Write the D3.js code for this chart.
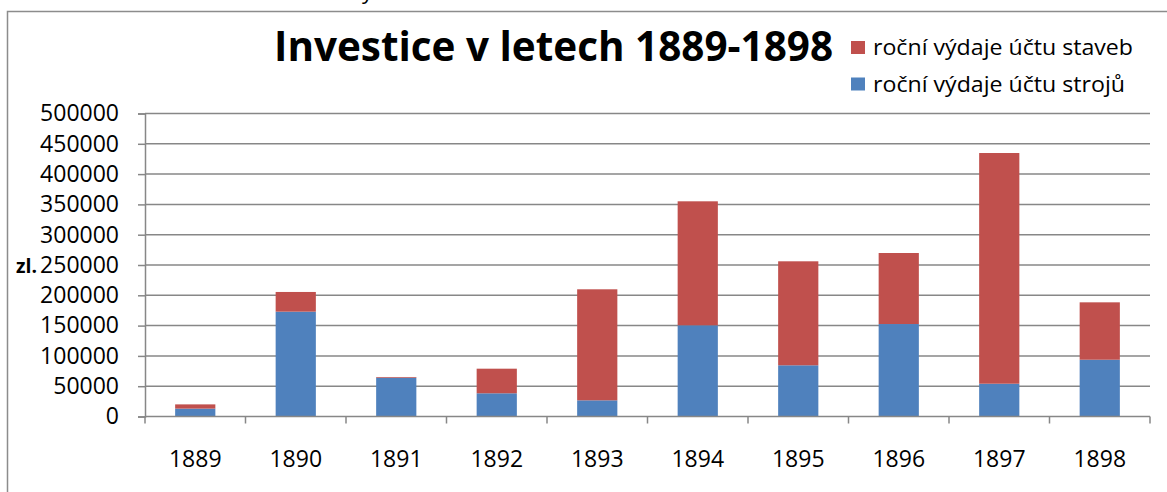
<!DOCTYPE html>
<html>
<head>
<meta charset="utf-8">
<script src="https://cdn.jsdelivr.net/npm/d3@7"></script>
<style>
  body { margin: 0; background: #fff; }
  svg { display: block; }
  text { font-family: 'Open Sans', 'DejaVu Sans', sans-serif; fill: #000; }
</style>
</head>
<body>
<div id="chart"></div>
<script>
// Data
const years = ['1889', '1890', '1891', '1892', '1893', '1894', '1895', '1896', '1897', '1898'];
const strojeValues = [13000, 173000, 64000, 38300, 26700, 150500, 84500, 152600, 54100, 93700];
const stavbyValues = [7000, 32500, 1200, 40600, 183200, 204600, 171600, 117200, 380700, 94700];
const yTicks = [0, 50000, 100000, 150000, 200000, 250000, 300000, 350000, 400000, 450000, 500000];
const seriesNames = ['roční výdaje účtu staveb', 'roční výdaje účtu strojů'];
const seriesColors = ['#C0504D', '#4F81BD'];
const title = 'Investice v letech 1889-1898';
const yLabel = 'zl.';

const W = 1167;
const H = 492;
const plot = { l: 145, r: 1150, t: 113.5, b: 416.5 };
const gridColor = '#878787';

const svg = d3.select('#chart')
  .append('svg')
  .attr('width', W)
  .attr('height', H);

// Scales
const scaleX = d3.scaleBand()
  .domain(years)
  .range([plot.l, plot.r])
  .paddingInner(0.6)
  .paddingOuter(0.3);

const scaleY = d3.scaleLinear()
  .domain([0, 500000])
  .range([plot.b, plot.t]);

// chart frame (only left and top edges visible)
svg.append('path')
  .attr('d', `M7.5,${H} V11.5 H${W}`)
  .attr('fill', 'none')
  .attr('stroke', '#8c8c8c')
  .attr('stroke-width', 1.5);

// bit of cut-off text above the frame
svg.append('text')
  .attr('x', 362)
  .attr('y', -1)
  .attr('font-size', 22)
  .text('y');

// Gridlines
svg.append('g')
  .attr('class', 'grid')
  .selectAll('line')
  .data(yTicks.filter(d => d > 0))
  .join('line')
  .attr('x1', plot.l)
  .attr('x2', plot.r)
  .attr('y1', d => scaleY(d))
  .attr('y2', d => scaleY(d))
  .attr('stroke', gridColor)
  .attr('stroke-width', 1.5);

// Stacked bars
const stackData = years.map((y, i) => ({ year: y, stroje: strojeValues[i], stavby: stavbyValues[i] }));
const stack = d3.stack().keys(['stroje', 'stavby'])(stackData);
const colorFor = { stroje: seriesColors[1], stavby: seriesColors[0] };

svg.append('g')
  .attr('class', 'bars')
  .selectAll('g')
  .data(stack)
  .join('g')
  .attr('fill', d => colorFor[d.key])
  .selectAll('rect')
  .data(d => d)
  .join('rect')
  .attr('x', d => scaleX(d.data.year))
  .attr('width', scaleX.bandwidth())
  .attr('y', d => scaleY(d[1]))
  .attr('height', d => scaleY(d[0]) - scaleY(d[1]));

// Axes
const yAxis = d3.axisLeft(scaleY)
  .tickValues(yTicks)
  .tickSize(7)
  .tickPadding(19)
  .tickFormat(d3.format('d'));

const yAxisG = svg.append('g')
  .attr('class', 'axis axis--y')
  .attr('transform', `translate(${plot.l}, 0)`)
  .call(yAxis);

yAxisG.select('.domain').attr('stroke', gridColor).attr('stroke-width', 1.5);
yAxisG.selectAll('.tick line').attr('stroke', gridColor).attr('stroke-width', 1.5);
yAxisG.selectAll('.tick text')
  .attr('font-size', 23)
  .attr('font-family', "'Open Sans', sans-serif")
  .attr('fill', '#000');

// x ticks sit on the category boundaries
const bounds = years.map(y => scaleX(y) - scaleX.step() * scaleX.paddingInner() / 2)
  .concat([plot.r]);

svg.append('line')
  .attr('x1', plot.l)
  .attr('x2', plot.r)
  .attr('y1', plot.b)
  .attr('y2', plot.b)
  .attr('stroke', gridColor)
  .attr('stroke-width', 1.5);

svg.append('g')
  .selectAll('line')
  .data(bounds)
  .join('line')
  .attr('x1', d => d)
  .attr('x2', d => d)
  .attr('y1', plot.b)
  .attr('y2', plot.b + 7)
  .attr('stroke', gridColor)
  .attr('stroke-width', 1.5);

svg.append('g')
  .attr('class', 'axis axis--x')
  .selectAll('text')
  .data(years)
  .join('text')
  .attr('x', d => scaleX(d) + scaleX.bandwidth() / 2)
  .attr('y', 467)
  .attr('text-anchor', 'middle')
  .attr('font-size', 23)
  .text(d => d);

// axis title
svg.append('text')
  .attr('x', 16)
  .attr('y', scaleY(250000) + 8)
  .attr('font-size', 20)
  .attr('font-weight', 'bold')
  .attr('textLength', 21)
  .attr('lengthAdjust', 'spacingAndGlyphs')
  .text(yLabel);

// Title
svg.append('text')
  .attr('x', 274)
  .attr('y', 61)
  .attr('font-size', 41)
  .attr('font-weight', 'bold')
  .attr('textLength', 559)
  .attr('lengthAdjust', 'spacingAndGlyphs')
  .text(title);

// Legend
const legend = svg.append('g')
  .attr('class', 'legend')
  .selectAll('g')
  .data(seriesNames)
  .join('g')
  .attr('transform', (d, i) => `translate(851, ${41 + i * 36.5})`);

legend.append('rect')
  .attr('width', 14)
  .attr('height', 13)
  .attr('fill', (d, i) => seriesColors[i]);

legend.append('text')
  .attr('x', 22)
  .attr('y', 14)
  .attr('font-size', 21)
  .attr('textLength', (d, i) => (i === 0 ? 260 : 252))
  .attr('lengthAdjust', 'spacingAndGlyphs')
  .text(d => d);
</script>
</body>
</html>
